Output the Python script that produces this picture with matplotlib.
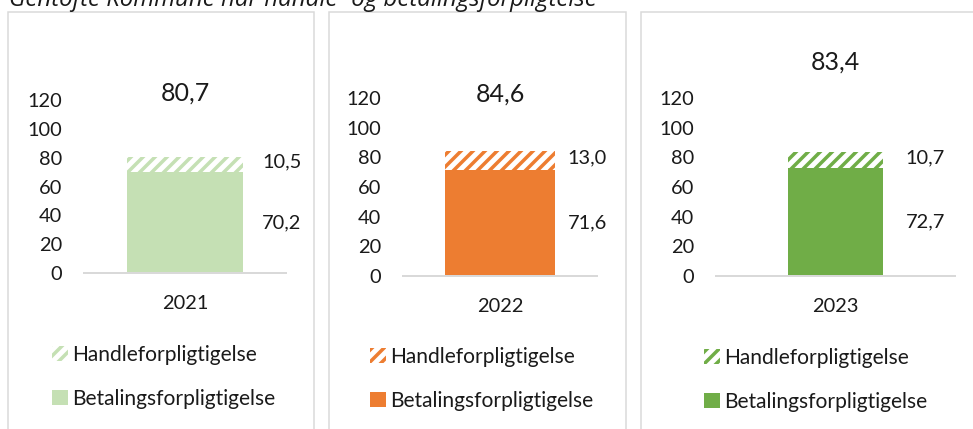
import matplotlib
matplotlib.use("Agg")
import matplotlib.pyplot as plt
from matplotlib.patches import Patch, Rectangle

# ---- data ----
years = ["2021", "2022", "2023"]
betaling = [70.2, 71.6, 72.7]
handle = [10.5, 13.0, 10.7]
totals = [80.7, 84.6, 83.4]
yticks = [0, 20, 40, 60, 80, 100, 120]
series_names = ["Handleforpligtigelse", "Betalingsforpligtigelse"]
title = "Gentofte Kommune har handle- og betalingsforpligtelse"

# ---- style ----
colors = ["#C5E0B4", "#ED7D31", "#70AD47"]
W, H = 973, 429
DPI = 72
plt.rcParams["hatch.linewidth"] = 3.5
plt.rcParams["font.family"] = ["Lato", "DejaVu Sans"]
txt = "#1a1a1a"

# per-panel layout (pixels)
axes_px = [(84, 286, 273, 100), (403, 597, 276, 98), (716, 955, 276, 98)]  # left, right, bottom(0), top(120)
bar_w = [0.574, 0.572, 0.40]
total_off = [7, 4, 36]
seg_off = [39, 32, 42]
box_px = [(8, 314), (329, 626), (641, 976)]
legend_px = [(52, 345), (370, 347), (704, 348)]

fig = plt.figure(figsize=(W / DPI, H / DPI), dpi=DPI)

fig.text(9 / W, 1 - 6 / H, title, fontsize=24, style="italic",
         family=["Open Sans", "DejaVu Sans"], va="baseline", ha="left", color=txt)

for i in range(3):
    l, r, b, t = axes_px[i]
    ax = fig.add_axes([l / W, 1 - b / H, (r - l) / W, (b - t) / H])
    ax.set_xlim(-0.5, 0.5)
    ax.set_ylim(0, 120)
    ax.bar([0], [betaling[i]], width=bar_w[i], color=colors[i], linewidth=0)
    ax.bar([0], [handle[i]], bottom=[betaling[i]], width=bar_w[i], facecolor="white",
           edgecolor=colors[i], hatch="//", linewidth=0)
    for s in ["top", "right", "left"]:
        ax.spines[s].set_visible(False)
    ax.spines["bottom"].set_color("#D9D9D9")
    ax.spines["bottom"].set_linewidth(2)
    ax.set_yticks(yticks)
    ax.set_yticklabels([str(v) for v in yticks], fontsize=20, color=txt)
    ax.set_xticks([0])
    ax.set_xticklabels([years[i]], fontsize=20, color=txt)
    ax.tick_params(axis="y", length=0, pad=22)
    ax.tick_params(axis="x", length=0, pad=22)
    ax.patch.set_visible(False)

    # total label
    ax.annotate(f"{totals[i]:.1f}".replace(".", ","), xy=(0, 120), xytext=(0, total_off[i]),
                textcoords="offset points", ha="center", va="center", fontsize=25,
                color=txt, annotation_clip=False)
    # segment labels
    xr = bar_w[i] / 2
    ax.annotate(f"{betaling[i]:.1f}".replace(".", ","), xy=(xr, betaling[i] / 2),
                xytext=(seg_off[i], 0), textcoords="offset points", ha="center", va="center",
                fontsize=20, color=txt, annotation_clip=False)
    ax.annotate(f"{handle[i]:.1f}".replace(".", ","), xy=(xr, betaling[i] + handle[i] / 2),
                xytext=(seg_off[i], 2), textcoords="offset points", ha="center", va="center",
                fontsize=20, color=txt, annotation_clip=False)

    # legend
    handles = [Patch(facecolor="white", edgecolor=colors[i], hatch="//", linewidth=0),
               Patch(facecolor=colors[i], linewidth=0)]
    lx, ly = legend_px[i]
    ax.legend(handles, series_names, loc="upper left", bbox_to_anchor=(lx / W, 1 - ly / H),
              bbox_transform=fig.transFigure, frameon=False, fontsize=21, borderpad=0,
              borderaxespad=0, handlelength=0.75, handleheight=0.7, handletextpad=0.2,
              labelspacing=1.15, labelcolor=txt)

    # panel box
    x0, x1 = box_px[i]
    fig.patches.append(Rectangle((x0 / W, -0.05), (x1 - x0) / W, 1 - 12 / H + 0.05,
                                 transform=fig.transFigure, fill=False,
                                 edgecolor="#D9D9D9", linewidth=1.5))

fig.savefig("out.png", dpi=DPI)
